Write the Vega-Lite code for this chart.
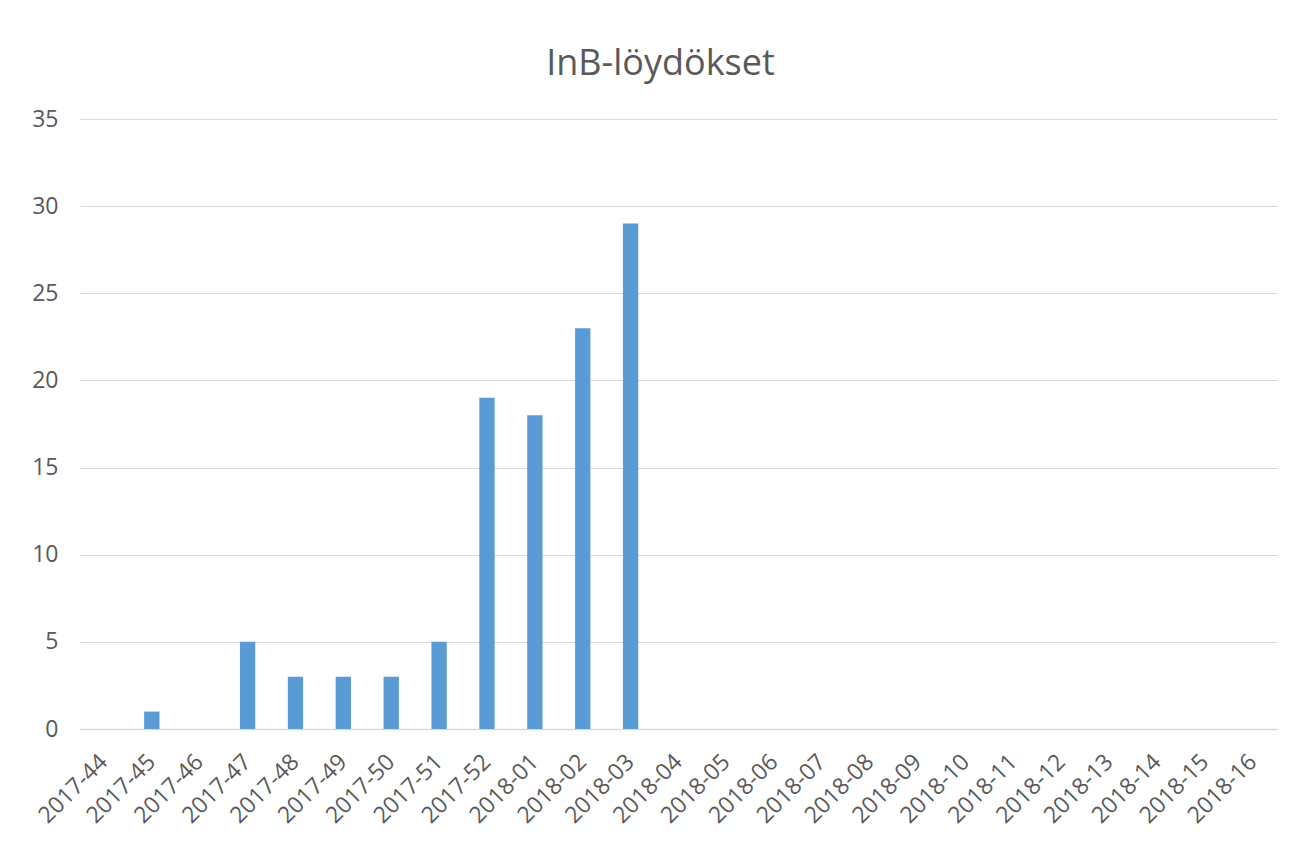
{
  "$schema": "https://vega.github.io/schema/vega-lite/v6.json",
  "width": 1197,
  "height": 610,
  "autosize": {"type": "none"},
  "padding": {"left": 80, "top": 119, "right": 19, "bottom": 118},
  "background": "white",
  "title": {
    "text": "InB-löydökset",
    "font": "Open Sans",
    "fontSize": 36,
    "fontWeight": "normal",
    "color": "#595959",
    "anchor": "middle",
    "baseline": "alphabetic",
    "offset": -3,
    "dx": -18
  },
  "data": {
    "values": [
      {"week": "2017-44", "count": 0},
      {"week": "2017-45", "count": 1},
      {"week": "2017-46", "count": 0},
      {"week": "2017-47", "count": 5},
      {"week": "2017-48", "count": 3},
      {"week": "2017-49", "count": 3},
      {"week": "2017-50", "count": 3},
      {"week": "2017-51", "count": 5},
      {"week": "2017-52", "count": 19},
      {"week": "2018-01", "count": 18},
      {"week": "2018-02", "count": 23},
      {"week": "2018-03", "count": 29},
      {"week": "2018-04", "count": 0},
      {"week": "2018-05", "count": 0},
      {"week": "2018-06", "count": 0},
      {"week": "2018-07", "count": 0},
      {"week": "2018-08", "count": 0},
      {"week": "2018-09", "count": 0},
      {"week": "2018-10", "count": 0},
      {"week": "2018-11", "count": 0},
      {"week": "2018-12", "count": 0},
      {"week": "2018-13", "count": 0},
      {"week": "2018-14", "count": 0},
      {"week": "2018-15", "count": 0},
      {"week": "2018-16", "count": 0}
    ]
  },
  "mark": {"type": "bar", "color": "#5B9BD5"},
  "encoding": {
    "x": {
      "field": "week",
      "type": "ordinal",
      "sort": null,
      "scale": {"paddingInner": 0.68, "paddingOuter": 0.34},
      "axis": {
        "title": null,
        "labelAngle": -45,
        "labelAlign": "right",
        "labelBaseline": "middle",
        "labelFont": "Open Sans",
        "labelFontSize": 23,
        "labelColor": "#595959",
        "labelPadding": 29,
        "ticks": false,
        "domainColor": "#d9d9d9",
        "domainWidth": 1.5,
        "grid": false
      }
    },
    "y": {
      "field": "count",
      "type": "quantitative",
      "scale": {"domain": [0, 35], "nice": false},
      "axis": {
        "title": null,
        "values": [0, 5, 10, 15, 20, 25, 30, 35],
        "labelFont": "Open Sans",
        "labelFontSize": 23,
        "labelColor": "#595959",
        "labelPadding": 22,
        "ticks": false,
        "domain": false,
        "grid": true,
        "gridColor": "#d9d9d9",
        "gridWidth": 1.2
      }
    }
  },
  "config": {
    "view": {"stroke": null}
  }
}
